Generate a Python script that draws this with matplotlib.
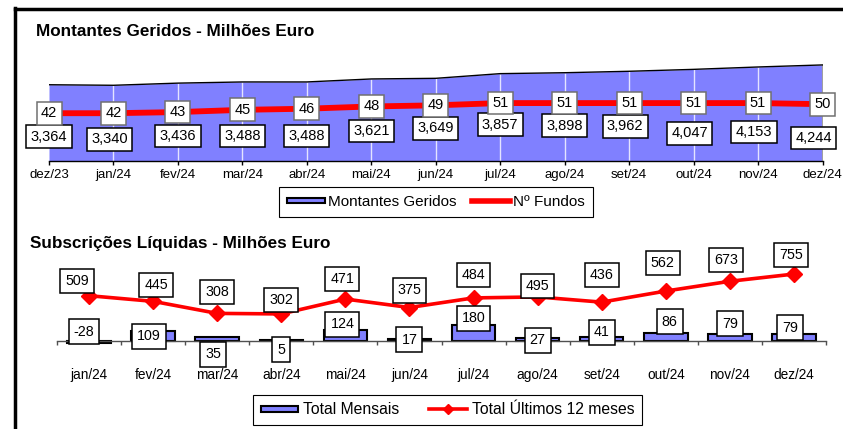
import numpy as np
import matplotlib
matplotlib.use('Agg')
import matplotlib.pyplot as plt
from matplotlib.lines import Line2D
from matplotlib.patches import Patch, Rectangle
from matplotlib.legend_handler import HandlerPatch

plt.rcParams['font.family'] = ['Liberation Sans', 'DejaVu Sans']

# Montantes geridos (milhões de euros) e número de fundos
meses_mont = ['dez/23', 'jan/24', 'fev/24', 'mar/24', 'abr/24', 'mai/24', 'jun/24',
              'jul/24', 'ago/24', 'set/24', 'out/24', 'nov/24', 'dez/24']
montantes = [3364, 3340, 3436, 3488, 3488, 3621, 3649, 3857, 3898, 3962, 4047, 4153, 4244]
n_fundos = [42, 42, 43, 45, 46, 48, 49, 51, 51, 51, 51, 51, 50]

# Subscrições líquidas (milhões de euros)
meses_subs = ['jan/24', 'fev/24', 'mar/24', 'abr/24', 'mai/24', 'jun/24',
              'jul/24', 'ago/24', 'set/24', 'out/24', 'nov/24', 'dez/24']
total_mensal = [-28, 109, 35, 5, 124, 17, 180, 27, 41, 86, 79, 79]
total_12m = [509, 445, 308, 302, 471, 375, 484, 495, 436, 562, 673, 755]

# posição das etiquetas (deslocamento em pixels)
off_mont = [(0, -52), (-4, -54), (0, -53), (0, -54), (0, -54), (0, -52), (0, -50),
            (0, -51), (0, -53), (-4, -55), (-4, -64), (-4, -65), (-9, -73)]
off_mensal = [(-5, 9), (-4, 4), (-4, -14), (0, -9), (-3, 16), (0, 1), (0, 22),
              (0, 0), (0, 8), (4, 19), (0, 17), (-4, 13)]
off_12m = [(-12, 15), (3, 16), (0, 21), (0, 14), (-3, 20), (0, 17), (0, 23),
           (0, 11), (0, 27), (-3, 28), (-4, 21), (-3, 19)]

AZUL = '#8080ff'
VERMELHO = '#ff0000'


def rect_fino(legend, orig_handle, xdescent, ydescent, width, height, fontsize):
    h = height * 0.5
    return Rectangle((-xdescent, -ydescent + (height - h) / 2), width, h)


W, H = 843, 429
fig = plt.figure(figsize=(W / 100, H / 100), dpi=100)

# moldura
fig.add_artist(Line2D([15 / W, 1], [1 - 9 / H, 1 - 9 / H], transform=fig.transFigure,
                      color='black', lw=2.5))
fig.add_artist(Line2D([15 / W, 15 / W], [0, 1 - 8 / H], transform=fig.transFigure,
                      color='black', lw=2.5))

# ---------------- Montantes Geridos ----------------
ax = fig.add_axes([49 / W, 1 - 160.5 / H, 773.5 / W, 112.6 / H])
x = np.arange(len(meses_mont))
ax.fill_between(x, 0, montantes, color=AZUL, lw=0, zorder=1)
ax.vlines(x[1:-1], 0, montantes[1:-1], color='#e4e4ff', lw=1, zorder=2)
ax.vlines(x[-1], 0, montantes[-1], color='#a0a0a0', lw=1.5, zorder=2)
ax.plot(x, montantes, color='black', lw=1, zorder=3)
ax.set_xlim(0, 12)
ax.set_ylim(0, 5000)
ax.set_xticks(x)
ax.set_xticklabels(meses_mont, fontsize=9.5)
ax.tick_params(axis='x', length=3, width=1, pad=3, color='black')
ax.set_yticks([])
for s in ['left', 'right', 'top']:
    ax.spines[s].set_visible(False)
ax.spines['bottom'].set_linewidth(1)
for xi, v, (dx, dy) in zip(x, montantes, off_mont):
    ax.annotate(f'{v:,}', (xi, v), xytext=(dx, dy), textcoords='offset pixels',
                ha='center', va='center', fontsize=10.5, zorder=5,
                bbox=dict(boxstyle='square,pad=0.3', fc='white', ec='black', lw=1.1))

ax2 = ax.twinx()
ax2.plot(x, n_fundos, color=VERMELHO, lw=4.2, solid_capstyle='butt', zorder=3)
ax2.set_ylim(0, 100)
ax2.set_yticks([])
for s in ax2.spines.values():
    s.set_visible(False)
for xi, v in zip(x, n_fundos):
    ax2.annotate(str(v), (xi, v), ha='center', va='center', fontsize=10.5, zorder=5,
                 bbox=dict(boxstyle='square,pad=0.3', fc='white', ec='#707070', lw=1.1))

fig.text(36 / W, 1 - 31.5 / H, 'Montantes Geridos - Milhões Euro',
         fontsize=12.3, fontweight='bold', va='center')

hm = {Patch: HandlerPatch(patch_func=rect_fino)}
leg1 = fig.legend([Patch(fc=AZUL, ec='black', lw=1.5),
                   Line2D([], [], color=VERMELHO, lw=4)],
                  ['Montantes Geridos', 'Nº Fundos'], handler_map=hm,
                  loc='center', bbox_to_anchor=(436 / W, 1 - 202 / H), ncol=2,
                  fontsize=11, frameon=True, fancybox=False, framealpha=1,
                  edgecolor='black', handlelength=2.5, handletextpad=0.2,
                  columnspacing=1.0, borderpad=0.5)
leg1.get_frame().set_linewidth(0.8)

# ---------------- Subscrições Líquidas ----------------
bx = fig.add_axes([57 / W, 1 - 358.1 / H, 769 / W, 105.6 / H])
xs = np.arange(len(meses_subs))
bx.bar(xs, total_mensal, width=0.68, color=AZUL, edgecolor='black', lw=1.5, zorder=2)
bx.plot(xs, total_12m, color=VERMELHO, lw=2.6, marker='D', ms=8, zorder=4)
bx.set_xlim(-0.5, 11.5)
bx.set_ylim(-200, 1000)
bx.set_yticks([])
for s in ['left', 'right', 'top']:
    bx.spines[s].set_visible(False)
bx.spines['bottom'].set_position(('data', 0))
bx.spines['bottom'].set_color('#505050')
bx.spines['bottom'].set_linewidth(1)
bx.set_xticks(xs)
bx.set_xticklabels(meses_subs, fontsize=9.8)
bx.set_xticks(np.arange(-0.5, 12, 1), minor=True)
bx.tick_params(axis='x', which='major', length=0, pad=20)
bx.tick_params(axis='x', which='minor', length=3, width=1, color='#505050')
for xi, v, (dx, dy) in zip(xs, total_mensal, off_mensal):
    bx.annotate(str(v), (xi, 0), xytext=(dx, dy), textcoords='offset pixels',
                ha='center', va='center', fontsize=10.3, zorder=6,
                bbox=dict(boxstyle='square,pad=0.35', fc='white', ec='black', lw=1.1))
for xi, v, (dx, dy) in zip(xs, total_12m, off_12m):
    bx.annotate(str(v), (xi, v), xytext=(dx, dy), textcoords='offset pixels',
                ha='center', va='center', fontsize=10.3, zorder=6,
                bbox=dict(boxstyle='square,pad=0.35', fc='white', ec='black', lw=1.1))

fig.text(30 / W, 1 - 244 / H, 'Subscrições Líquidas - Milhões Euro',
         fontsize=12.3, fontweight='bold', va='center')

leg2 = fig.legend([Patch(fc=AZUL, ec='black', lw=1.5),
                   Line2D([], [], color=VERMELHO, lw=2.6, marker='D', ms=5)],
                  ['Total Mensais', 'Total Últimos 12 meses'], handler_map=hm,
                  loc='center', bbox_to_anchor=(447.5 / W, 1 - 410 / H), ncol=2,
                  fontsize=11.3, frameon=True, fancybox=False, framealpha=1,
                  edgecolor='black', handlelength=2.4, handletextpad=0.3,
                  columnspacing=1.9, borderpad=0.5)
leg2.get_frame().set_linewidth(0.8)

fig.savefig('out.png', dpi=100)
